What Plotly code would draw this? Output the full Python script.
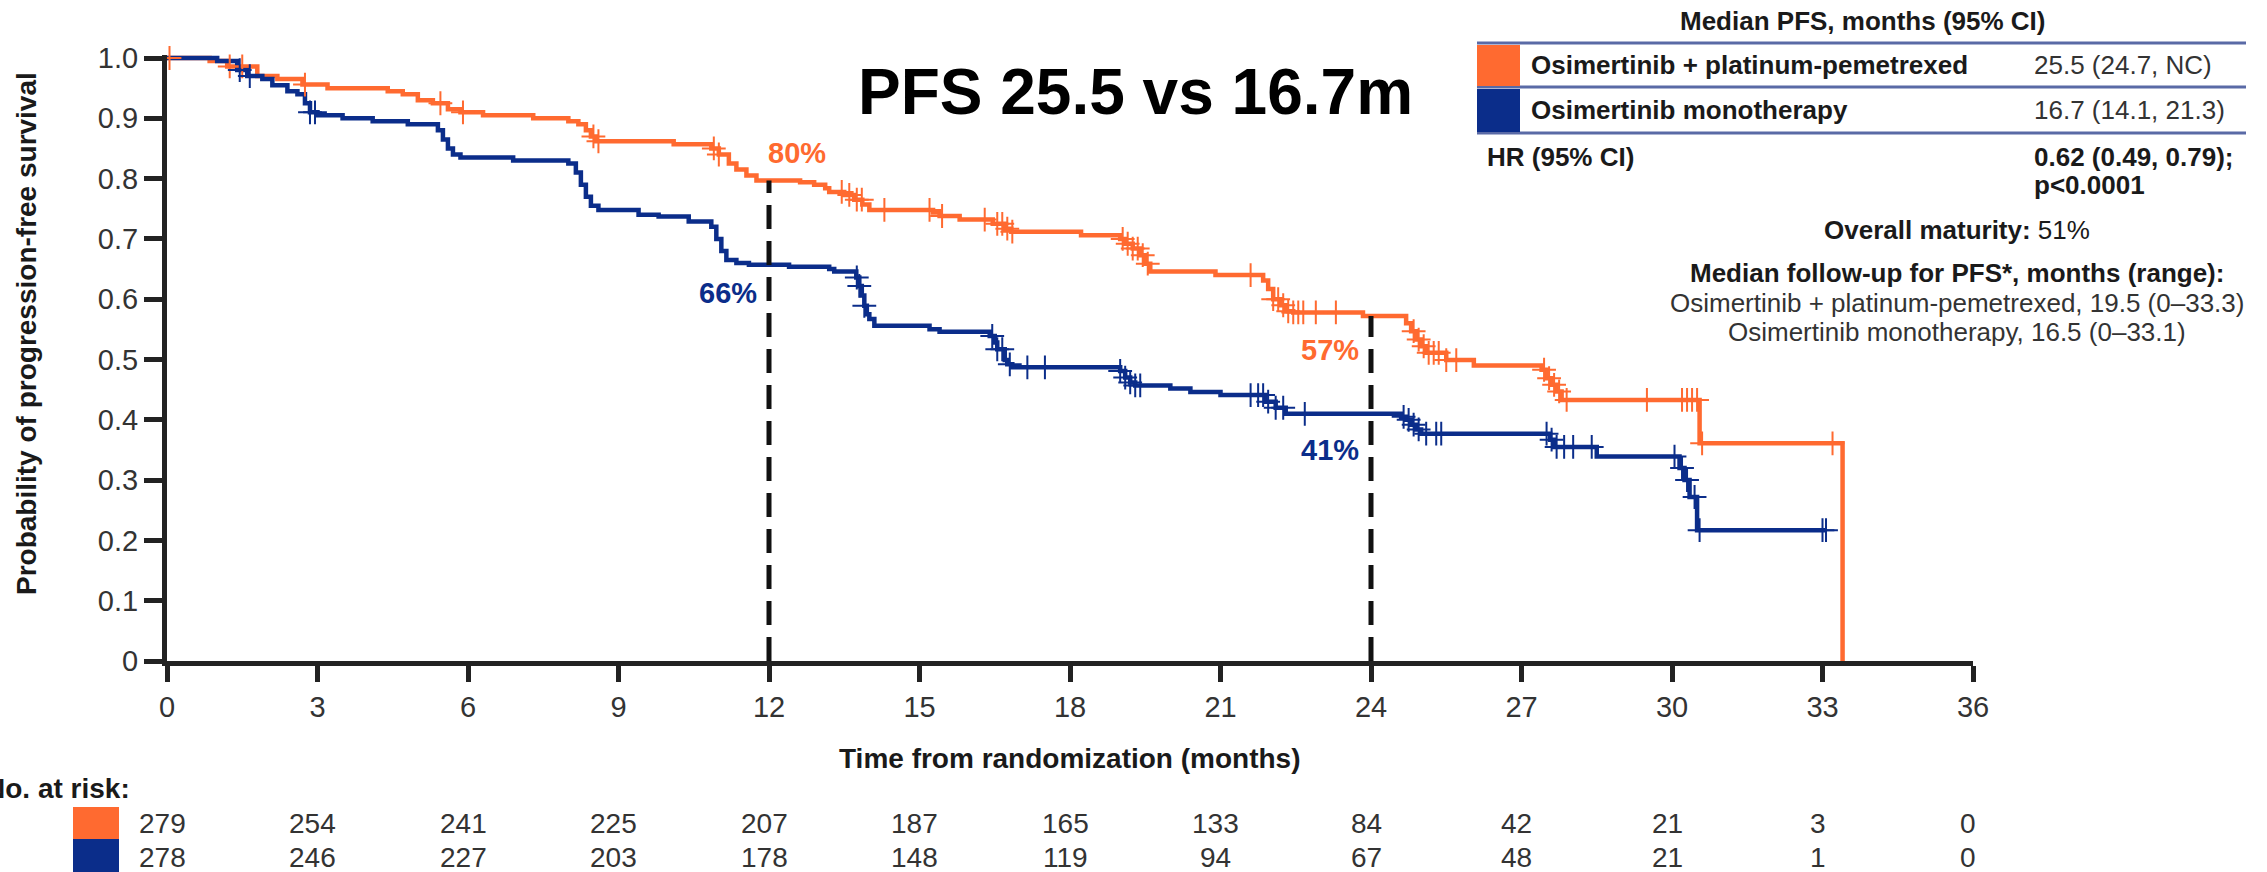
import plotly.graph_objects as go

# ---- Kaplan-Meier step data (months, survival probability) ----
COMBO_T = [0, 0.85, 1.2, 1.8, 2.2, 2.7, 3.2, 4.4, 4.7, 5.0, 5.3, 5.6, 5.85, 6.3, 7.3, 8.0, 8.2,
           8.35, 8.45, 8.55, 10.1, 10.85, 11.0, 11.2, 11.35, 11.55, 11.75, 12.62, 12.9, 13.12,
           13.2, 13.5, 13.7, 13.86, 14.0, 15.27, 15.4, 15.8, 16.46, 16.7, 16.83, 18.22, 19.0,
           19.1, 19.25, 19.4, 19.5, 19.6, 20.9, 21.85, 21.95, 22.05, 22.2, 22.3, 22.45, 23.84,
           24.7, 24.8, 24.9, 25.0, 25.1, 25.5, 26.05, 27.4, 27.5, 27.6, 27.7, 27.8, 30.55, 33.4]
COMBO_S = [1.0, 0.995, 0.986, 0.97, 0.965, 0.956, 0.95, 0.945, 0.94, 0.93, 0.925, 0.915, 0.91,
           0.905, 0.90, 0.895, 0.89, 0.88, 0.87, 0.862, 0.857, 0.85, 0.84, 0.825, 0.815, 0.805,
           0.797, 0.794, 0.79, 0.784, 0.778, 0.773, 0.765, 0.757, 0.748, 0.744, 0.738, 0.732,
           0.725, 0.717, 0.712, 0.706, 0.70, 0.692, 0.684, 0.673, 0.659, 0.646, 0.64, 0.631,
           0.617, 0.60, 0.59, 0.58, 0.578, 0.572, 0.56, 0.547, 0.533, 0.522, 0.511, 0.499, 0.49,
           0.483, 0.469, 0.458, 0.447, 0.433, 0.361, 0.0]
COMBO_CENSOR = [0.05, 1.25, 1.5, 2.75, 5.45, 5.9, 8.5, 8.6, 10.9, 11.0, 13.45, 13.6, 13.75, 13.85,
                14.3, 15.2, 15.45, 16.3, 16.55, 16.65, 16.75, 16.85, 19.05, 19.15, 19.25, 19.35,
                19.45, 19.55, 21.6, 22.05, 22.15, 22.25, 22.35, 22.45, 22.55, 22.65, 22.9, 23.3,
                24.85, 24.95, 25.05, 25.15, 25.25, 25.35, 25.5, 25.7, 27.45, 27.55, 27.65, 27.75,
                27.9, 29.5, 30.2, 30.3, 30.4, 30.5, 30.6, 33.2]

MONO_T = [0, 1.0, 1.4, 1.6, 1.9, 2.1, 2.4, 2.6, 2.75, 2.85, 3.0, 3.5, 4.1, 4.8, 5.4, 5.5, 5.6,
          5.7, 5.85, 6.9, 8.0, 8.15, 8.25, 8.35, 8.45, 8.6, 9.4, 9.8, 10.4, 10.85, 10.95, 11.05,
          11.15, 11.35, 11.6, 12.4, 13.2, 13.3, 13.74, 13.8, 13.85, 13.9, 13.95, 14.0, 14.1,
          15.2, 15.4, 16.4, 16.5, 16.55, 16.7, 16.75, 16.85, 19.0, 19.1, 19.2, 19.3, 20.0, 20.4,
          21.0, 21.9, 22.1, 22.3, 24.6, 24.7, 24.8, 24.9, 25.0, 27.57, 27.65, 28.5, 30.15, 30.25,
          30.35, 30.5, 33.07]
MONO_S = [1.0, 0.995, 0.98, 0.97, 0.965, 0.955, 0.945, 0.94, 0.925, 0.91, 0.905, 0.90, 0.895,
          0.89, 0.88, 0.865, 0.85, 0.84, 0.835, 0.83, 0.825, 0.81, 0.79, 0.77, 0.755, 0.748, 0.74,
          0.737, 0.729, 0.72, 0.70, 0.68, 0.665, 0.66, 0.657, 0.654, 0.65, 0.646, 0.636, 0.622,
          0.606, 0.589, 0.575, 0.567, 0.556, 0.55, 0.546, 0.539, 0.528, 0.517, 0.499, 0.492,
          0.487, 0.481, 0.47, 0.462, 0.457, 0.452, 0.446, 0.441, 0.43, 0.42, 0.41, 0.405, 0.40,
          0.392, 0.384, 0.377, 0.367, 0.355, 0.339, 0.32, 0.30, 0.272, 0.217, 0.217]
MONO_CENSOR = [1.45, 1.65, 2.85, 2.95, 13.75, 13.8, 13.9, 16.45, 16.55, 16.65, 16.8, 17.15, 17.5,
               19.0, 19.1, 19.2, 19.3, 19.4, 21.6, 21.75, 21.85, 21.95, 22.1, 22.25, 22.68, 24.65,
               24.75, 24.85, 24.95, 25.1, 25.3, 25.4, 27.5, 27.6, 27.7, 27.85, 28.03, 28.4, 30.05,
               30.2, 30.3, 30.45, 30.55, 33.0, 33.07]

LANDMARKS = [12, 24]

RISK_MONTHS = [0, 3, 6, 9, 12, 15, 18, 21, 24, 27, 30, 33, 36]
RISK_COMBO = [279, 254, 241, 225, 207, 187, 165, 133, 84, 42, 21, 3, 0]
RISK_MONO = [278, 246, 227, 203, 178, 148, 119, 94, 67, 48, 21, 1, 0]

Y_TICKS = [0, 0.1, 0.2, 0.3, 0.4, 0.5, 0.6, 0.7, 0.8, 0.9, 1.0]
Y_TICK_TEXT = ["0", "0.1", "0.2", "0.3", "0.4", "0.5", "0.6", "0.7", "0.8", "0.9", "1.0"]

ORANGE = "#FF6A30"
NAVY = "#0B2D8A"
INK = "#1a1a1a"
GREY_TXT = "#333333"
RULE = "#5A6AA6"
FONT = "Liberation Sans, Arial, sans-serif"

W, H = 2267, 872
L, R, T, B = 167, 1973, 55, 661   # plot area in pixels
X_MAX = 36


def px(x):
    return (x - L) / (R - L)


def py(y):
    return (B - y) / (B - T)


def month_px(m):
    return L + (R - L) * m / X_MAX


def surv_at(times, surv, t):
    val = surv[0]
    for ti, si in zip(times, surv):
        if ti <= t:
            val = si
        else:
            break
    return val


fig = go.Figure()

# survival curves
for times, surv, col in [(COMBO_T, COMBO_S, ORANGE), (MONO_T, MONO_S, NAVY)]:
    fig.add_trace(go.Scatter(x=times, y=surv, mode="lines", line=dict(color=col, width=4.5, shape="hv"),
                             hoverinfo="skip", showlegend=False))

# censoring marks
for times, surv, cens, col in [(COMBO_T, COMBO_S, COMBO_CENSOR, ORANGE),
                               (MONO_T, MONO_S, MONO_CENSOR, NAVY)]:
    fig.add_trace(go.Scatter(x=cens, y=[surv_at(times, surv, c) for c in cens], mode="markers",
                             marker=dict(symbol="cross-thin", size=17, line=dict(width=2, color=col)),
                             hoverinfo="skip", showlegend=False, cliponaxis=False))

# landmark dashed lines
for m in LANDMARKS:
    top = surv_at(COMBO_T, COMBO_S, m)
    fig.add_trace(go.Scatter(x=[m, m], y=[0, top], mode="lines",
                             line=dict(color="#111111", width=5, dash="24px,12px"),
                             hoverinfo="skip", showlegend=False))

annotations = []

# landmark percentage labels
lab_pos = {
    (12, "combo"): (12.56, 0.842), (12, "mono"): (11.18, 0.61),
    (24, "combo"): (23.18, 0.516), (24, "mono"): (23.18, 0.35),
}
for m in LANDMARKS:
    for key, times, surv, col in [("combo", COMBO_T, COMBO_S, ORANGE), ("mono", MONO_T, MONO_S, NAVY)]:
        v = surv_at(times, surv, m)
        x, y = lab_pos[(m, key)]
        annotations.append(dict(x=x, y=y, xref="x", yref="y", xanchor="center", yanchor="middle",
                                text=f"<b>{round(v * 100)}%</b>", showarrow=False,
                                font=dict(size=29, color=col, family=FONT)))


def txt(x, y, s, anchor="left", bold=False, color=INK, size=26, angle=0):
    annotations.append(dict(x=px(x), y=py(y), xref="paper", yref="paper", xanchor=anchor,
                            yanchor="middle", textangle=angle,
                            text=f"<b>{s}</b>" if bold else s, showarrow=False,
                            font=dict(size=size, color=color, family=FONT)))


# headline
txt(1135, 92, "PFS 25.5 vs 16.7m", anchor="center", bold=True, color="#000000", size=64)

# axis titles
txt(1070, 758, "Time from randomization (months)", anchor="center", bold=True, size=28)
txt(26, 334, "Probability of progression-free survival", anchor="center", bold=True, size=28,
    angle=-90)

# number at risk
txt(132, 789, "No. at risk:", anchor="right", bold=True, size=28)
for row_y, counts in [(823, RISK_COMBO), (857, RISK_MONO)]:
    for m, n in zip(RISK_MONTHS, counts):
        txt(month_px(m) - 5, row_y, str(n), anchor="center", color=GREY_TXT, size=28)

# summary table
txt(1863, 21, "Median PFS, months (95% CI)", anchor="center", bold=True)
txt(1529, 65, "Osimertinib + platinum-pemetrexed", bold=True)
txt(2032, 65, "25.5 (24.7, NC)", color=GREY_TXT)
txt(1529, 110, "Osimertinib monotherapy", bold=True)
txt(2032, 110, "16.7 (14.1, 21.3)", color=GREY_TXT)
txt(1485, 157, "HR (95% CI)", bold=True)
txt(2032, 157, "0.62 (0.49, 0.79);", bold=True)
txt(2032, 185, "p<0.0001", bold=True)
txt(1957, 230, "<b>Overall maturity:</b> 51%", anchor="center")
txt(1957, 273, "Median follow-up for PFS*, months (range):", anchor="center", bold=True)
txt(1957, 303, "Osimertinib + platinum-pemetrexed, 19.5 (0–33.3)", anchor="center", color=GREY_TXT)
txt(1957, 332, "Osimertinib monotherapy, 16.5 (0–33.1)", anchor="center", color=GREY_TXT)

shapes = []
for y in [43, 87, 133]:
    shapes.append(dict(type="line", xref="paper", yref="paper", x0=px(1477), x1=px(2246),
                       y0=py(y), y1=py(y), line=dict(color=RULE, width=3)))
shapes.append(dict(type="rect", xref="paper", yref="paper", x0=px(1477), x1=px(1520),
                   y0=py(86), y1=py(45), fillcolor=ORANGE, line=dict(width=0)))
shapes.append(dict(type="rect", xref="paper", yref="paper", x0=px(1477), x1=px(1520),
                   y0=py(132), y1=py(89), fillcolor=NAVY, line=dict(width=0)))
# at-risk colour keys
shapes.append(dict(type="rect", xref="paper", yref="paper", x0=px(73), x1=px(119),
                   y0=py(839), y1=py(807), fillcolor=ORANGE, line=dict(width=0)))
shapes.append(dict(type="rect", xref="paper", yref="paper", x0=px(73), x1=px(119),
                   y0=py(872), y1=py(839), fillcolor=NAVY, line=dict(width=0)))

fig.update_layout(
    width=W, height=H,
    margin=dict(l=L, r=W - R, t=T, b=H - B, pad=0),
    paper_bgcolor="white", plot_bgcolor="white",
    annotations=annotations, shapes=shapes,
    xaxis=dict(range=[0, X_MAX], tickvals=RISK_MONTHS, ticks="outside", ticklen=16, tickwidth=5,
               tickcolor="#222", showline=True, linecolor="#222", linewidth=5, showgrid=False,
               zeroline=False, tickfont=dict(size=29, color=GREY_TXT, family=FONT)),
    yaxis=dict(range=[0, 1.005], tickvals=Y_TICKS, ticktext=Y_TICK_TEXT, ticks="outside",
               ticklen=18, tickwidth=5, tickcolor="#222", showline=True, linecolor="#222",
               linewidth=5, showgrid=False, zeroline=False,
               tickfont=dict(size=29, color=GREY_TXT, family=FONT)),
)

fig.write_html("out.html")
